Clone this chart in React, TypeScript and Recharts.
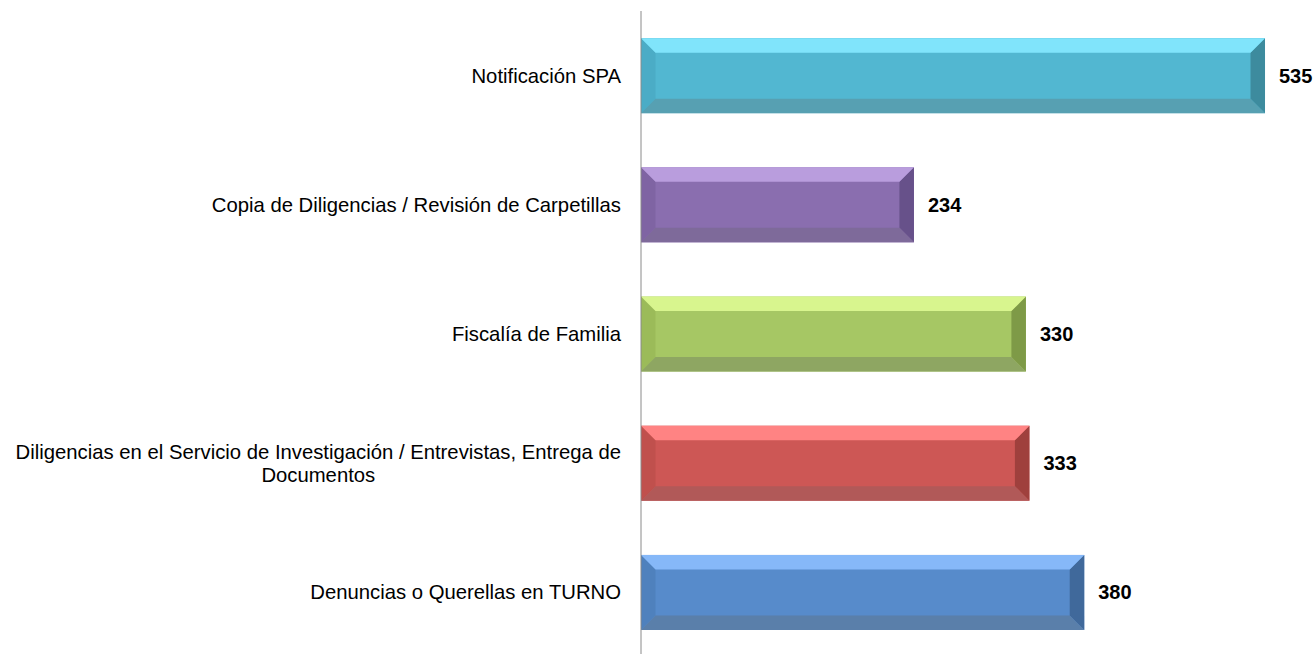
import React from "react";
import { BarChart, Bar, XAxis, YAxis, LabelList } from "recharts";

const categories = [
  "Notificación SPA",
  "Copia de Diligencias / Revisión de Carpetillas",
  "Fiscalía de Familia",
  "Diligencias en el Servicio de Investigación / Entrevistas, Entrega de Documentos",
  "Denuncias o Querellas en TURNO",
];
const values = [535, 234, 330, 333, 380];

// palette per bar: face, top, left, bottom, right
const palettes = [
  { face: "#52B7D1", top: "#80E4FB", left: "#4BACC6", bottom: "#57A0B2", right: "#3D8B9E" },
  { face: "#8A6EAF", top: "#B99DDD", left: "#7F64A3", bottom: "#7E6A9A", right: "#67518A" },
  { face: "#A6C764", top: "#D8F58E", left: "#9BBB59", bottom: "#8EA662", right: "#7E9A47" },
  { face: "#CD5755", top: "#FF8383", left: "#C0504D", bottom: "#B15958", right: "#9F403D" },
  { face: "#578BCB", top: "#86B8F8", left: "#4F81BD", bottom: "#5A7FAA", right: "#40699B" },
];

const data = categories.map((c, i) => ({ category: c, value: values[i] }));

const FONT = "'Liberation Sans', Arial, sans-serif";
const FONT_SIZE = 20.3;

let measureCtx: CanvasRenderingContext2D | null = null;
function measure(text: string): number {
  if (!measureCtx) {
    const c = document.createElement("canvas");
    measureCtx = c.getContext("2d");
  }
  if (!measureCtx) return text.length * FONT_SIZE * 0.5;
  measureCtx.font = `${FONT_SIZE}px 'Liberation Sans'`;
  return measureCtx.measureText(text).width;
}

function wrap(text: string, maxW: number): string[] {
  const words = text.split(" ");
  const lines: string[] = [];
  let cur = "";
  for (const w of words) {
    const test = cur ? cur + " " + w : w;
    if (cur && measure(test) > maxW) {
      lines.push(cur);
      cur = w;
    } else {
      cur = test;
    }
  }
  if (cur) lines.push(cur);
  return lines;
}

const CategoryTick = (props: any) => {
  const { x, y, payload } = props;
  const lines = wrap(String(payload.value), 615);
  const lineH = 23;
  const tx = x - 12;
  if (lines.length === 1) {
    return (
      <text x={tx} y={y} textAnchor="end" dominantBaseline="central" fontFamily={FONT} fontSize={FONT_SIZE} fill="#000">
        {lines[0]}
      </text>
    );
  }
  const w0 = measure(lines[0]);
  const startY = y - ((lines.length - 1) * lineH) / 2;
  return (
    <g>
      {lines.map((l, i) => (
        <text
          key={i}
          x={i === 0 ? tx : tx - w0 / 2}
          y={startY + i * lineH}
          textAnchor={i === 0 ? "end" : "middle"}
          dominantBaseline="central"
          fontFamily={FONT}
          fontSize={FONT_SIZE}
          fill="#000"
        >
          {l}
        </text>
      ))}
    </g>
  );
};

const BevelBar = (props: any) => {
  const { x, y, width, height, payload } = props;
  const idx = categories.indexOf(payload?.category);
  const p = palettes[idx >= 0 ? idx : 0];
  const b = Math.min(14.5, width / 2, height / 2);
  const x2 = x + width;
  const y2 = y + height;
  const pts = (arr: number[][]) => arr.map((q) => q.join(",")).join(" ");
  return (
    <g>
      <rect x={x} y={y} width={width} height={height} fill={p.face} />
      <polygon points={pts([[x, y], [x + b, y + b], [x + b, y2 - b], [x, y2]])} fill={p.left} />
      <polygon points={pts([[x2, y], [x2, y2], [x2 - b, y2 - b], [x2 - b, y + b]])} fill={p.right} />
      <polygon points={pts([[x, y], [x2, y], [x2 - b, y + b], [x + b, y + b]])} fill={p.top} />
      <polygon points={pts([[x, y2], [x + b, y2 - b], [x2 - b, y2 - b], [x2, y2]])} fill={p.bottom} />
    </g>
  );
};

const ValueLabel = (props: any) => {
  const { x, y, width, height, value } = props;
  return (
    <text
      x={x + width + 14}
      y={y + height / 2}
      textAnchor="start"
      dominantBaseline="central"
      fontFamily={FONT}
      fontSize={20}
      fontWeight="bold"
      fill="#000"
    >
      {value}
    </text>
  );
};

export default function App() {
  return (
    <div style={{ position: "absolute", left: 0, top: 0, width: 1315, height: 654, overflow: "hidden", background: "#fff" }}>
      <BarChart
        width={1315}
        height={660}
        data={data}
        layout="vertical"
        margin={{ top: 11, right: 1, bottom: 3, left: 0 }}
        barCategoryGap="21%"
      >
        <XAxis type="number" domain={[0, 577]} hide />
        <YAxis
          type="category"
          dataKey="category"
          width={641}
          axisLine={{ stroke: "#8A8A8A", strokeWidth: 1 }}
          tickLine={false}
          tick={<CategoryTick />}
          interval={0}
        />
        <Bar dataKey="value" isAnimationActive={false} shape={<BevelBar />}>
          <LabelList dataKey="value" content={<ValueLabel />} />
        </Bar>
      </BarChart>
    </div>
  );
}
